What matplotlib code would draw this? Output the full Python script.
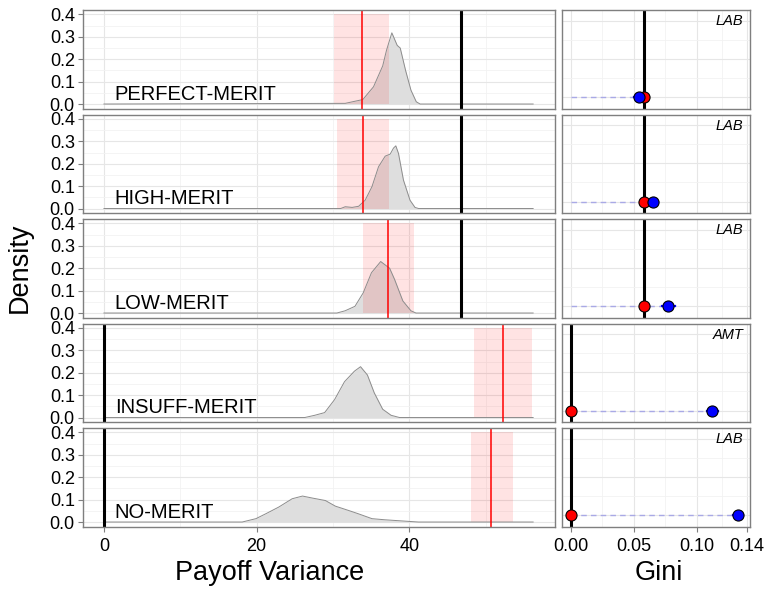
# payoff variance densities + gini, one row per condition
import numpy as np
import matplotlib.pyplot as plt

plt.rcParams['font.family'] = ['Liberation Sans', 'DejaVu Sans']

conditions = ['PERFECT-MERIT', 'HIGH-MERIT', 'LOW-MERIT', 'INSUFF-MERIT', 'NO-MERIT']
sources = ['LAB', 'LAB', 'LAB', 'AMT', 'LAB']

# payoff variance: observed (red line + band) and predicted (black line)
obs_mean = [33.75, 33.9, 37.2, 52.2, 50.7]
obs_lo = [30.1, 30.5, 33.95, 48.4, 48.0]
obs_hi = [37.3, 37.35, 40.6, 56.0, 53.6]
pred_var = [46.7, 46.7, 46.7, 0.0, 0.0]

# simulated payoff variance densities
dens_x = [
    [0, 31.6, 33.9, 35.3, 36.5, 37.0, 37.7, 38.4, 38.8, 39.5, 40.2, 40.9, 41.4, 56.2],
    [0, 31.0, 31.6, 32.5, 33.35, 34.2, 35.09, 35.96, 36.83, 37.48, 37.92, 38.22, 38.57,
     39.22, 40.08, 40.73, 41.2, 56.2],
    [0, 30.5, 31.58, 32.87, 33.95, 35.03, 36.24, 37.41, 38.06, 39.14, 40.2, 40.86, 56.2],
    [0, 26.3, 27.6, 28.9, 30.2, 31.5, 32.8, 33.6, 34.5, 35.4, 36.5, 37.6, 38.7, 56.2],
    [0, 18.1, 19.9, 21.2, 22.9, 24.65, 26.0, 27.3, 29.0, 30.3, 32.0, 33.3, 35.1, 36.8,
     39.4, 41.2, 56.2],
]
dens_y = [
    [0, 0.003, 0.02, 0.077, 0.17, 0.24, 0.318, 0.262, 0.25, 0.15, 0.062, 0.01, 0, 0],
    [0, 0, 0.008, 0.005, 0.01, 0.037, 0.097, 0.187, 0.234, 0.243, 0.27, 0.28, 0.246,
     0.127, 0.037, 0.005, 0, 0],
    [0, 0, 0.01, 0.03, 0.09, 0.18, 0.23, 0.20, 0.15, 0.054, 0.01, 0, 0],
    [0, 0, 0.01, 0.022, 0.08, 0.16, 0.207, 0.227, 0.19, 0.11, 0.037, 0.01, 0, 0],
    [0, 0, 0.015, 0.037, 0.067, 0.104, 0.116, 0.107, 0.096, 0.071, 0.052, 0.037, 0.015,
     0.01, 0.004, 0, 0],
]

# gini: predicted (red point / black line) vs observed (blue point)
gini_pred = [0.058, 0.058, 0.058, 0.0, 0.0]
gini_obs = [0.0546, 0.065, 0.0776, 0.1126, 0.1326]
gini_err = [0.004, 0.004, 0.005, 0.0046, 0.004]

W, H = 766, 601
fig = plt.figure(figsize=(W / 100, H / 100), dpi=100)

tops = [10, 114.5, 219, 323.5, 428]
ph = 98.5
border = '#7f7f7f'


def style(ax):
    for s in ax.spines.values():
        s.set_color(border)
        s.set_linewidth(1.0)
    ax.set_axisbelow(True)
    ax.grid(which='major', color='#e6e6e6', lw=0.8)
    ax.grid(which='minor', color='#f2f2f2', lw=0.6)
    ax.tick_params(which='both', color=border, width=0.8, length=3.5, labelsize=13,
                   labelcolor='black', pad=2)
    ax.tick_params(axis='x', pad=5)
    ax.tick_params(which='minor', length=0)


for i in range(5):
    b = 1 - (tops[i] + ph) / H
    axl = fig.add_axes([82.5 / W, b, (554.5 - 82.5) / W, ph / H])
    axr = fig.add_axes([561.7 / W, b, (750 - 561.7) / W, ph / H])

    # left: density
    axl.fill_between(dens_x[i], dens_y[i], color='#dedede', lw=0)
    axl.plot(dens_x[i], dens_y[i], color='#8c8c8c', lw=0.7)
    axl.fill_between([obs_lo[i], obs_hi[i]], 0, 0.4, color='red', alpha=0.11, lw=0)
    axl.axvline(obs_mean[i], color='red', lw=1.1)
    axl.axvline(pred_var[i], color='black', lw=2.2)
    axl.text(1.4, 0.02, conditions[i], fontsize=14.5, va='baseline', ha='left')
    axl.set_xlim(-2.81, 59.0)
    axl.set_ylim(-0.02, 0.42)
    axl.set_yticks([0, 0.1, 0.2, 0.3, 0.4])
    axl.set_yticklabels(['0.0', '0.1', '0.2', '0.3', '0.4'])
    axl.set_yticks([0.05, 0.15, 0.25, 0.35], minor=True)
    axl.set_xticks([0, 20, 40])
    axl.set_xticks([10, 30, 50], minor=True)
    style(axl)

    # right: gini
    axr.axvline(gini_pred[i], color='black', lw=2.2, zorder=2)
    axr.plot([0, gini_obs[i]], [0, 0], ls=(0, (4, 3)), color='#a9a9e6', lw=1.0, zorder=2)
    axr.plot([gini_obs[i] - gini_err[i], gini_obs[i] + gini_err[i]], [0, 0],
             color='blue', lw=1.6, zorder=3)
    axr.plot(gini_pred[i], 0, 'o', ms=8, mfc='red', mec='black', mew=0.8, zorder=4)
    axr.plot(gini_obs[i], 0, 'o', ms=8, mfc='blue', mec='black', mew=0.8, zorder=5)
    axr.text(0.965, 0.885, sources[i], transform=axr.transAxes, fontsize=10.5,
             style='italic', ha='right', va='center')
    axr.set_xlim(-0.0072, 0.1425)
    axr.set_ylim(-0.6, 4.55)
    axr.set_yticks([0, 2, 4])
    axr.set_yticks([1, 3], minor=True)
    axr.set_xticks([0, 0.05, 0.10, 0.14])
    axr.set_xticklabels(['0.00', '0.05', '0.10', '0.14'])
    axr.set_xticks([0.025, 0.075, 0.12], minor=True)
    style(axr)
    axr.tick_params(axis='y', which='both', length=0, labelleft=False)

    if i < 4:
        axl.tick_params(axis='x', which='both', length=0, labelbottom=False)
        axr.tick_params(axis='x', which='both', length=0, labelbottom=False)

fig.text(270 / W, 1 - 573 / H, 'Payoff Variance', fontsize=19.5, ha='center', va='center')
fig.text(659 / W, 1 - 573 / H, 'Gini', fontsize=19.5, ha='center', va='center')
fig.text(20 / W, 1 - 268 / H, 'Density', fontsize=19.5, rotation=90, ha='center', va='center')

fig.savefig('out.png', dpi=100)
